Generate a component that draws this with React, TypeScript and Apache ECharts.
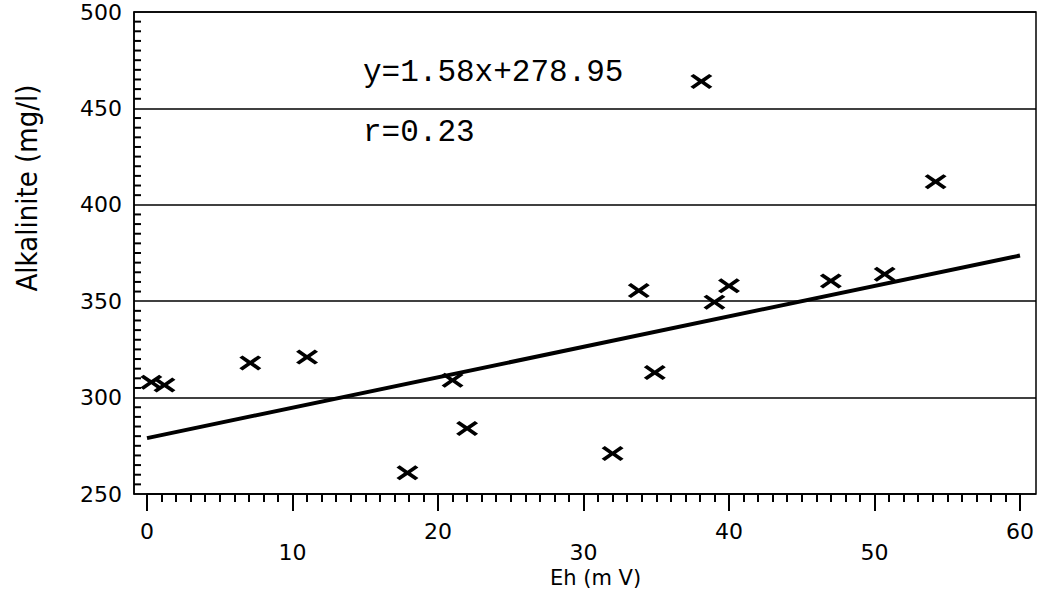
import React, { useEffect, useRef } from "react";
import * as echarts from "echarts";

// Measured points (Eh in mV, Alkalinity in mg/l)
const ehValues = [0.3, 1.2, 7.1, 11.0, 17.9, 21.0, 22.0, 32.0, 33.8, 34.9, 38.1, 39.0, 40.0, 47.0, 50.7, 54.2];
const alkalinityValues = [308, 306.5, 318, 321, 261, 309, 284, 271, 355.5, 313, 464, 349.5, 358, 360.5, 364, 412];

// Regression line end points
const fitX = [0, 60];
const fitY = [279.0, 373.7];

// Axis labels: two staggered rows under the x axis
const xLabelsRow1 = [0, 20, 40, 60];
const xLabelsRow2 = [10, 30, 50];
const yTickLabels = [250, 300, 350, 400, 450, 500];
// minor tick comb on the left axis, every 5 mg/l
const yMinorTicks: number[] = [];
for (let v = 255; v < 500; v += 5) if (v % 50 !== 0) yMinorTicks.push(v);

const equationText = "y=1.58x+278.95";
const rText = "r=0.23";
const xTitle = "Eh (m V)";
const yTitle = "Alkalinite (mg/l)";

const X_SYMBOL =
  "path://M0,2.2 L3.2,0 L11,5.4 L18.8,0 L22,2.2 L14.4,7.5 L22,12.8 L18.8,15 L11,9.6 L3.2,15 L0,12.8 L7.6,7.5 Z";

const tickFont = "DejaVu Sans, Verdana, sans-serif";
const black = "#000";

export default function App() {
  const ref = useRef<HTMLDivElement>(null);

  useEffect(() => {
    if (!ref.current) return;
    const chart = echarts.init(ref.current, undefined, { renderer: "svg" });
    const points = ehValues.map((x, i) => [x, alkalinityValues[i]]);
    const fit = fitX.map((x, i) => [x, fitY[i]]);

    const dataX = {
      type: "value" as const,
      gridIndex: 0,
      min: 0,
      max: 60,
      interval: 10,
      position: "bottom" as const,
      splitLine: { show: false },
    };

    chart.setOption({
      animation: false,
      backgroundColor: "#ffffff",
      grid: [
        { left: 147, right: 27, top: 12, bottom: 105, show: false },
        {
          left: 134,
          right: 11,
          top: 12,
          bottom: 105,
          show: true,
          borderColor: black,
          borderWidth: 1.5,
          backgroundColor: "transparent",
        },
      ],
      xAxis: [
        {
          ...dataX,
          name: xTitle,
          nameLocation: "middle",
          nameGap: 73,
          nameTextStyle: { color: black, fontSize: 21, fontFamily: tickFont, padding: [0, 0, 0, 24] },
          axisLine: { show: true, onZero: false, lineStyle: { color: black, width: 1.5 } },
          axisTick: { show: true, length: 17, lineStyle: { color: black, width: 2 } },
          minorTick: { show: true, splitNumber: 10, length: 8, lineStyle: { color: black, width: 2 } },
          axisLabel: {
            show: true,
            margin: 26,
            color: black,
            fontSize: 22,
            fontFamily: tickFont,
            showMinLabel: true,
            showMaxLabel: true,
            formatter: (v: number) => (xLabelsRow1.includes(v) ? String(v) : ""),
          },
        },
        {
          ...dataX,
          axisLine: { show: false, onZero: false },
          axisTick: { show: false },
          axisLabel: {
            show: true,
            margin: 47,
            color: black,
            fontSize: 22,
            fontFamily: tickFont,
            formatter: (v: number) => (xLabelsRow2.includes(v) ? String(v) : ""),
          },
        },
        { type: "value", gridIndex: 1, min: 0, max: 1, show: false },
      ],
      yAxis: [
        { type: "value", gridIndex: 0, min: 250, max: 500, interval: 50, show: false },
        {
          type: "value",
          gridIndex: 1,
          min: 250,
          max: 500,
          interval: 50,
          position: "left",
          axisLine: { show: true, onZero: false, lineStyle: { color: black, width: 1.5 } },
          axisTick: { show: false },
          splitLine: { show: true, lineStyle: { color: black, width: 1.5 } },
          axisLabel: {
            color: black,
            fontSize: 22,
            fontFamily: tickFont,
            margin: 12,
            padding: [8, 0, 0, 0],
            formatter: (v: number) => (yTickLabels.includes(v) ? String(v) : ""),
          },
        },
      ],
      graphic: [
        {
          type: "text",
          left: 363,
          top: 57,
          style: { text: equationText, fill: black, fontSize: 31, fontFamily: "Liberation Mono, Courier New, monospace" },
        },
        {
          type: "text",
          left: 363,
          top: 117,
          style: { text: rText, fill: black, fontSize: 31, fontFamily: "Liberation Mono, Courier New, monospace" },
        },
        {
          type: "text",
          x: 27,
          y: 188,
          rotation: Math.PI / 2,
          style: {
            text: yTitle,
            fill: black,
            fontSize: 29,
            fontFamily: "Liberation Sans Narrow, DejaVu Sans Condensed, Arial Narrow, sans-serif",
            align: "center",
            verticalAlign: "middle",
          },
        },
      ],
      series: [
        {
          // tick comb drawn just inside the left frame
          type: "scatter",
          xAxisIndex: 0,
          yAxisIndex: 0,
          silent: true,
          clip: false,
          data: yMinorTicks.map((v) => [0, v]),
          symbol: "rect",
          symbolSize: [7, 2],
          symbolOffset: [-9.5, 0],
          itemStyle: { color: black, opacity: 1 },
          z: 5,
        },
        {
          type: "line",
          xAxisIndex: 0,
          yAxisIndex: 0,
          data: fit,
          symbol: "none",
          lineStyle: { color: black, width: 4 },
          silent: true,
        },
        {
          type: "scatter",
          xAxisIndex: 0,
          yAxisIndex: 0,
          data: points,
          symbol: X_SYMBOL,
          symbolSize: [22, 15],
          itemStyle: { color: black, opacity: 1 },
        },
      ],
    });
    return () => chart.dispose();
  }, []);

  return (
    <div
      ref={ref}
      style={{ position: "fixed", left: 0, top: 0, width: 1047, height: 599, background: "#fff" }}
    />
  );
}
